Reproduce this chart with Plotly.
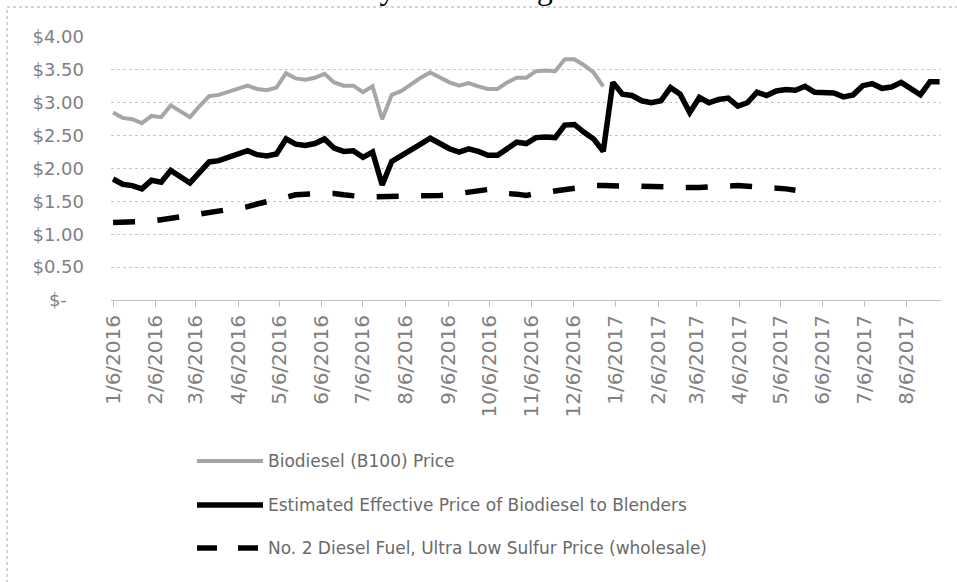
import plotly.graph_objects as go
import pandas as pd

# ---------------- data ----------------
FIRST_WEEK = "2016-01-06"

biodiesel_b100 = [
    2.85, 2.77, 2.75, 2.69, 2.80, 2.78, 2.96, 2.87, 2.78, 2.95,
    3.10, 3.12, 3.17, 3.21, 3.26, 3.21, 3.19, 3.23, 3.45, 3.37,
    3.35, 3.38, 3.44, 3.31, 3.26, 3.26, 3.16, 3.25, 2.75, 3.12,
    3.18, 3.28, 3.38, 3.46, 3.38, 3.31, 3.26, 3.30, 3.25, 3.21,
    3.21, 3.31, 3.38, 3.38, 3.48, 3.49, 3.48, 3.66, 3.66, 3.57,
    3.46, 3.25,
]

effective_price = [
    1.84, 1.76, 1.74, 1.69, 1.82, 1.79, 1.97, 1.87, 1.78, 1.94,
    2.10, 2.12, 2.17, 2.22, 2.27, 2.21, 2.19, 2.22, 2.45, 2.37,
    2.35, 2.38, 2.45, 2.31, 2.26, 2.27, 2.17, 2.25, 1.75, 2.11,
    2.19, 2.28, 2.37, 2.46, 2.38, 2.30, 2.25, 2.30, 2.26, 2.20,
    2.20, 2.30, 2.40, 2.38, 2.47, 2.48, 2.47, 2.66, 2.67, 2.55,
    2.45, 2.26, 3.31, 3.13, 3.11, 3.03, 3.00, 3.03, 3.23, 3.13,
    2.85, 3.08, 3.00, 3.05, 3.07, 2.95, 3.00, 3.16, 3.11, 3.18,
    3.20, 3.19, 3.25, 3.16, 3.16, 3.15, 3.09, 3.12, 3.26, 3.29,
    3.22, 3.24, 3.31, 3.21, 3.12, 3.32, 3.32,
]

diesel_ulsd = [
    1.18, 1.18, 1.18, 1.19, 1.20, 1.22, 1.24, 1.27, 1.30, 1.32,
    1.33, 1.35, 1.37, 1.39, 1.42, 1.46, 1.50, 1.54, 1.58, 1.60,
    1.61, 1.62, 1.63, 1.62, 1.60, 1.58, 1.57, 1.57, 1.57, 1.57,
    1.57, 1.57, 1.58, 1.58, 1.59, 1.60, 1.62, 1.64, 1.66, 1.68,
    1.66, 1.62, 1.61, 1.59, 1.62, 1.64, 1.66, 1.69, 1.72, 1.73,
    1.74, 1.74, 1.74, 1.74, 1.74, 1.74, 1.74, 1.73, 1.72, 1.71,
    1.70, 1.71, 1.72, 1.73, 1.74, 1.74, 1.73, 1.72, 1.72, 1.72,
    1.69, 1.67,
]

series_names = [
    "Biodiesel (B100) Price",
    "Estimated Effective Price of Biodiesel to Blenders",
    "No. 2 Diesel Fuel, Ultra Low Sulfur Price (wholesale)",
]

x_tick_labels = [
    "1/6/2016", "2/6/2016", "3/6/2016", "4/6/2016", "5/6/2016", "6/6/2016",
    "7/6/2016", "8/6/2016", "9/6/2016", "10/6/2016", "11/6/2016", "12/6/2016",
    "1/6/2017", "2/6/2017", "3/6/2017", "4/6/2017", "5/6/2017", "6/6/2017",
    "7/6/2017", "8/6/2017",
]

y_tick_values = [0, 0.5, 1.0, 1.5, 2.0, 2.5, 3.0, 3.5, 4.0]
y_tick_labels = ["$-\u00a0\u00a0\u00a0", "$0.50", "$1.00", "$1.50", "$2.00",
                 "$2.50", "$3.00", "$3.50", "$4.00"]

title_text = "January 2016 \u2013 August 2017"

# ---------------- figure ----------------
weeks = pd.date_range(FIRST_WEEK, periods=len(effective_price), freq="7D")
x_tick_vals = pd.to_datetime(x_tick_labels, format="%m/%d/%Y")

GRAY = "#a6a6a6"
BLACK = "#000000"
DASH = "22px,22.4px"

styles = [
    dict(color=GRAY, width=4, dash="solid"),
    dict(color=BLACK, width=5.5, dash="solid"),
    dict(color=BLACK, width=5.5, dash=DASH),
]
values = [biodiesel_b100, effective_price, diesel_ulsd]

fig = go.Figure()
for name, vals, st in zip(series_names, values, styles):
    fig.add_trace(go.Scatter(
        x=weeks[:len(vals)], y=vals, name=name, mode="lines",
        line=dict(color=st["color"], width=st["width"], dash=st["dash"]),
        showlegend=False, hoverinfo="x+y",
    ))

# page geometry (pixels)
W, H = 957, 582
L, R, T, B = 111, 16, 37, 282
PW, PH = W - L - R, H - T - B


def px_x(px):
    return (px - L) / PW


def px_y(py):
    return (H - B - py) / PH


fig.update_layout(
    width=W, height=H,
    margin=dict(l=L, r=R, t=T, b=B, pad=0, autoexpand=False),
    paper_bgcolor="white", plot_bgcolor="white",
    xaxis=dict(
        type="date", automargin=False,
        range=["2016-01-04 12:00", "2017-08-31 00:00"],
        tickmode="array", tickvals=x_tick_vals, ticktext=x_tick_labels,
        tickangle=-90, ticks="outside", ticklen=6, tickcolor="#c0c0c0",
        tickfont=dict(family="DejaVu Sans", size=20, color="#808080"),
        showgrid=False, showline=True, linecolor="#c0c0c0", linewidth=1,
        zeroline=False,
    ),
    yaxis=dict(
        range=[0, 4], automargin=False,
        tickmode="array", tickvals=y_tick_values,
        ticktext=y_tick_labels,
        tickfont=dict(family="DejaVu Sans", size=18, color="#808080"),
        showgrid=True, gridcolor="#c8c8c8", gridwidth=1, griddash="dot",
        zeroline=False, showline=False, ticks="", ticklabelstandoff=26,
    ),
)

# outer dotted frame (top-left part visible)
fig.add_shape(type="rect", xref="paper", yref="paper",
              x0=px_x(7), x1=px_x(975), y0=px_y(600), y1=px_y(7),
              line=dict(color="#a8a8a8", width=1, dash="dot"),
              fillcolor="rgba(0,0,0,0)", layer="below")

# clipped title at the very top
fig.add_annotation(text=title_text, xref="paper", yref="paper",
                   x=px_x(479), y=px_y(8), xanchor="center", yanchor="bottom",
                   showarrow=False,
                   font=dict(family="Liberation Serif", size=32, color="#000000"))

# manual legend below the plot
legend_rows_y = [461, 505, 548]
for name, st, ly in zip(series_names, styles, legend_rows_y):
    sym_dash = "solid" if st["dash"] == "solid" else "20px,21px"
    fig.add_shape(type="line", xref="paper", yref="paper",
                  x0=px_x(197), x1=px_x(263), y0=px_y(ly), y1=px_y(ly),
                  line=dict(color=st["color"], width=st["width"], dash=sym_dash))
    fig.add_annotation(text=name, xref="paper", yref="paper",
                       x=px_x(266), y=px_y(ly), xanchor="left", yanchor="middle",
                       showarrow=False,
                       font=dict(family="DejaVu Sans", size=17, color="#6a6a6a"))

fig.write_html(
    "out.html",
    include_plotlyjs=True,
    config={"displayModeBar": False},
    post_script="document.body.style.margin='0';document.body.style.overflow='hidden';",
)
